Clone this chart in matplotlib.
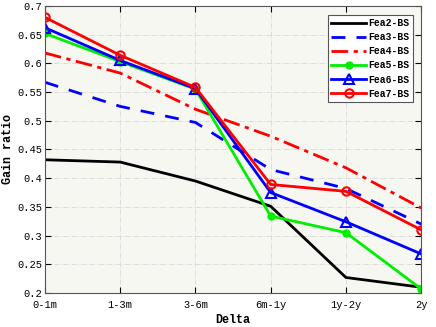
import numpy as np
import matplotlib.pyplot as plt

categories = ['0-1m', '1-3m', '3-6m', '6m-1y', '1y-2y', '2y']
fea2 = [0.432, 0.428, 0.395, 0.351, 0.227, 0.210]
fea3 = [0.567, 0.525, 0.497, 0.415, 0.382, 0.320]
fea4 = [0.618, 0.583, 0.520, 0.473, 0.418, 0.348]
fea5 = [0.652, 0.603, 0.555, 0.334, 0.305, 0.207]
fea6 = [0.662, 0.605, 0.556, 0.375, 0.324, 0.268]
fea7 = [0.680, 0.614, 0.558, 0.389, 0.377, 0.310]

plt.rcParams['font.family'] = ['Liberation Mono', 'DejaVu Sans Mono']

fig = plt.figure(figsize=(4.36, 3.27), dpi=100)
ax = fig.add_axes([0.103, 0.104, 0.863, 0.878])
ax.set_facecolor('#f7f7f2')

x = np.arange(len(categories))
ax.plot(x, fea2, color='k', lw=2, label='Fea2-BS')
ax.plot(x, fea3, color='b', lw=2, ls=(0, (5, 4)), label='Fea3-BS')
ax.plot(x, fea4, color='r', lw=2, ls=(0, (6, 2, 1.5, 2)), label='Fea4-BS')
ax.plot(x, fea5, color='#00ee00', lw=2, marker='o', ms=5, label='Fea5-BS')
ax.plot(x, fea6, color='b', lw=2, marker='^', ms=7, mfc='none', mew=1.5, label='Fea6-BS')
ax.plot(x, fea7, color='r', lw=2, marker='o', ms=6, mfc='none', mew=1.5, label='Fea7-BS')

ax.set_xlim(0, 5)
ax.set_ylim(0.2, 0.7)
ax.set_xticks(x)
ax.set_xticklabels(categories)
ax.set_yticks(np.arange(0.2, 0.701, 0.05))
ax.set_yticklabels(['0.2', '0.25', '0.3', '0.35', '0.4', '0.45', '0.5', '0.55', '0.6', '0.65', '0.7'])
ax.tick_params(direction='in', top=True, right=True, labelsize=7.5, length=4)
ax.tick_params(axis='x', pad=5)
ax.tick_params(axis='y', pad=2)
ax.grid(True, color='#d8d8d8', ls='-.', lw=0.6)
for s in ax.spines.values():
    s.set_color('#555555')
    s.set_linewidth(0.8)

ax.set_xlabel('Delta', fontweight='bold', fontsize=8.5)
ax.set_ylabel('Gain ratio', fontweight='bold', fontsize=8.5)
ax.xaxis.set_label_coords(0.5, -0.072)
ax.yaxis.set_label_coords(-0.082, 0.5)

leg = ax.legend(loc='upper right', prop={'weight': 'bold', 'size': 7},
                fancybox=False, edgecolor='#555555', framealpha=1, facecolor='white',
                handlelength=3.6, handletextpad=0.2, borderpad=0.35, labelspacing=0.42,
                borderaxespad=0, bbox_to_anchor=(0.978, 0.969))
leg.get_frame().set_linewidth(0.8)

fig.savefig('out.png', dpi=100)
